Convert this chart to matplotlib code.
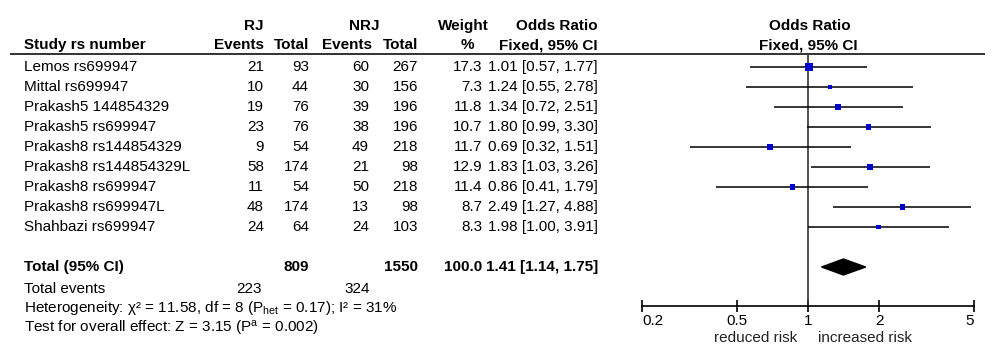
import numpy as np
import matplotlib
matplotlib.use('Agg')
import matplotlib.pyplot as plt
from matplotlib.ticker import NullLocator, FixedLocator, FixedFormatter

plt.rcParams['font.family'] = ['Liberation Sans', 'DejaVu Sans']
plt.rcParams['mathtext.fontset'] = 'custom'
plt.rcParams['mathtext.rm'] = 'Liberation Sans'
plt.rcParams['font.size'] = 11

# study data
studies = ['Lemos rs699947', 'Mittal rs699947', 'Prakash5 144854329', 'Prakash5 rs699947',
           'Prakash8 rs144854329', 'Prakash8 rs144854329L', 'Prakash8 rs699947',
           'Prakash8 rs699947L', 'Shahbazi rs699947']
rj_events = [21, 10, 19, 23, 9, 58, 11, 48, 24]
rj_total = [93, 44, 76, 76, 54, 174, 54, 174, 64]
nrj_events = [60, 30, 39, 38, 49, 21, 50, 13, 24]
nrj_total = [267, 156, 196, 196, 218, 98, 218, 98, 103]
weights = [17.3, 7.3, 11.8, 10.7, 11.7, 12.9, 11.4, 8.7, 8.3]
odds = [1.01, 1.24, 1.34, 1.80, 0.69, 1.83, 0.86, 2.49, 1.98]
ci_low = [0.57, 0.55, 0.72, 0.99, 0.32, 1.03, 0.41, 1.27, 1.00]
ci_high = [1.77, 2.78, 2.51, 3.30, 1.51, 3.26, 1.79, 4.88, 3.91]

# pooled result
total_or, total_low, total_high = 1.41, 1.14, 1.75
total_rj, total_nrj, total_weight = 809, 1550, 100.0
events_rj, events_nrj = 223, 324

ticks = [0.2, 0.5, 1, 2, 5]
tick_labels = ['0.2', '0.5', '1', '2', '5']

fig = plt.figure(figsize=(10, 3.56), dpi=100)
ax = fig.add_axes([0, 0, 1, 1])
ax.set_xlim(0, 1000)
ax.set_ylim(356, 0)
ax.axis('off')

row_y = 67 + 20 * np.arange(len(studies))
total_y = 267

# column headers
ax.text(254, 26, 'RJ', ha='center', va='center', fontweight='bold')
ax.text(364, 26, 'NRJ', ha='center', va='center', fontweight='bold')
ax.text(463, 26, 'Weight', ha='center', va='center', fontweight='bold')
ax.text(598, 26, 'Odds Ratio', ha='right', va='center', fontweight='bold')
ax.text(810, 26, 'Odds Ratio', ha='center', va='center', fontweight='bold')
ax.text(24, 45, 'Study rs number', ha='left', va='center', fontweight='bold')
ax.text(264, 45, 'Events', ha='right', va='center', fontweight='bold')
ax.text(309, 45, 'Total', ha='right', va='center', fontweight='bold')
ax.text(372, 45, 'Events', ha='right', va='center', fontweight='bold')
ax.text(418, 45, 'Total', ha='right', va='center', fontweight='bold')
ax.text(467, 45, '%', ha='center', va='center', fontweight='bold')
ax.text(598, 45, 'Fixed, 95% CI', ha='right', va='center', fontweight='bold')
ax.text(808, 45, 'Fixed, 95% CI', ha='center', va='center', fontweight='bold')
ax.hlines(54, 10, 985, color='#222222', lw=1.3)

# study rows
for i, y in enumerate(row_y):
    ax.text(24, y, studies[i], ha='left', va='center')
    ax.text(264, y, str(rj_events[i]), ha='right', va='center')
    ax.text(309, y, str(rj_total[i]), ha='right', va='center')
    ax.text(369, y, str(nrj_events[i]), ha='right', va='center')
    ax.text(418, y, str(nrj_total[i]), ha='right', va='center')
    ax.text(482, y, '%.1f' % weights[i], ha='right', va='center')
    ax.text(598, y, '%.2f [%.2f, %.2f]' % (odds[i], ci_low[i], ci_high[i]), ha='right', va='center')

# totals
ax.text(24, total_y, 'Total (95% CI)', ha='left', va='center', fontweight='bold')
ax.text(309, total_y, str(total_rj), ha='right', va='center', fontweight='bold')
ax.text(418, total_y, str(total_nrj), ha='right', va='center', fontweight='bold')
ax.text(482, total_y, '%.1f' % total_weight, ha='right', va='center', fontweight='bold')
ax.text(598, total_y, '%.2f [%.2f, %.2f]' % (total_or, total_low, total_high),
        ha='right', va='center', fontweight='bold')
ax.text(24, 289, 'Total events', ha='left', va='center')
ax.text(262, 289, str(events_rj), ha='right', va='center')
ax.text(370, 289, str(events_nrj), ha='right', va='center')
ax.text(24, 308, 'Heterogeneity: \u03c7\u00b2 = 11.58, df = 8 ($\\mathregular{P_{het}}$ = 0.17); I\u00b2 = 31%',
        ha='left', va='center')
ax.text(24, 328, 'Test for overall effect: Z = 3.15 ($\\mathregular{P^{a}}$ = 0.002)', ha='left', va='center')

# forest plot
fx = fig.add_axes([0.642, 0, 0.332, 1])
fx.patch.set_visible(False)
fx.set_xscale('log')
fx.set_xlim(0.2, 5)
fx.set_ylim(356, 0)
fx.vlines(1, 54, 306, color='#333333', lw=1.2)
fx.hlines(row_y, ci_low, ci_high, color='black', lw=1.1, zorder=2)
sides = 1.7 * np.sqrt(weights) * 0.72
fx.scatter(odds, row_y, marker='s', s=sides ** 2, color='#0000CC', zorder=3, linewidths=0)
fx.fill([total_low, total_or, total_high, total_or],
        [total_y, total_y - 8, total_y, total_y + 8], color='black', zorder=3)

for s in ['left', 'right', 'top']:
    fx.spines[s].set_visible(False)
fx.spines['bottom'].set_position(('data', 306))
fx.spines['bottom'].set_linewidth(1.2)
fx.xaxis.set_major_locator(FixedLocator(ticks))
fx.xaxis.set_major_formatter(FixedFormatter(tick_labels))
fx.xaxis.set_minor_locator(NullLocator())
fx.tick_params(axis='x', direction='inout', length=8, width=1.2, pad=2, labelsize=11)
fx.set_yticks([])
tl = fx.get_xticklabels()
tl[0].set_horizontalalignment('left')
tl[-1].set_horizontalalignment('right')

fx.text(0.9, 338, 'reduced risk', ha='right', va='center', color='#222222')
fx.text(1.1, 338, 'increased risk', ha='left', va='center', color='#222222')

fig.savefig('out.png', dpi=100)
